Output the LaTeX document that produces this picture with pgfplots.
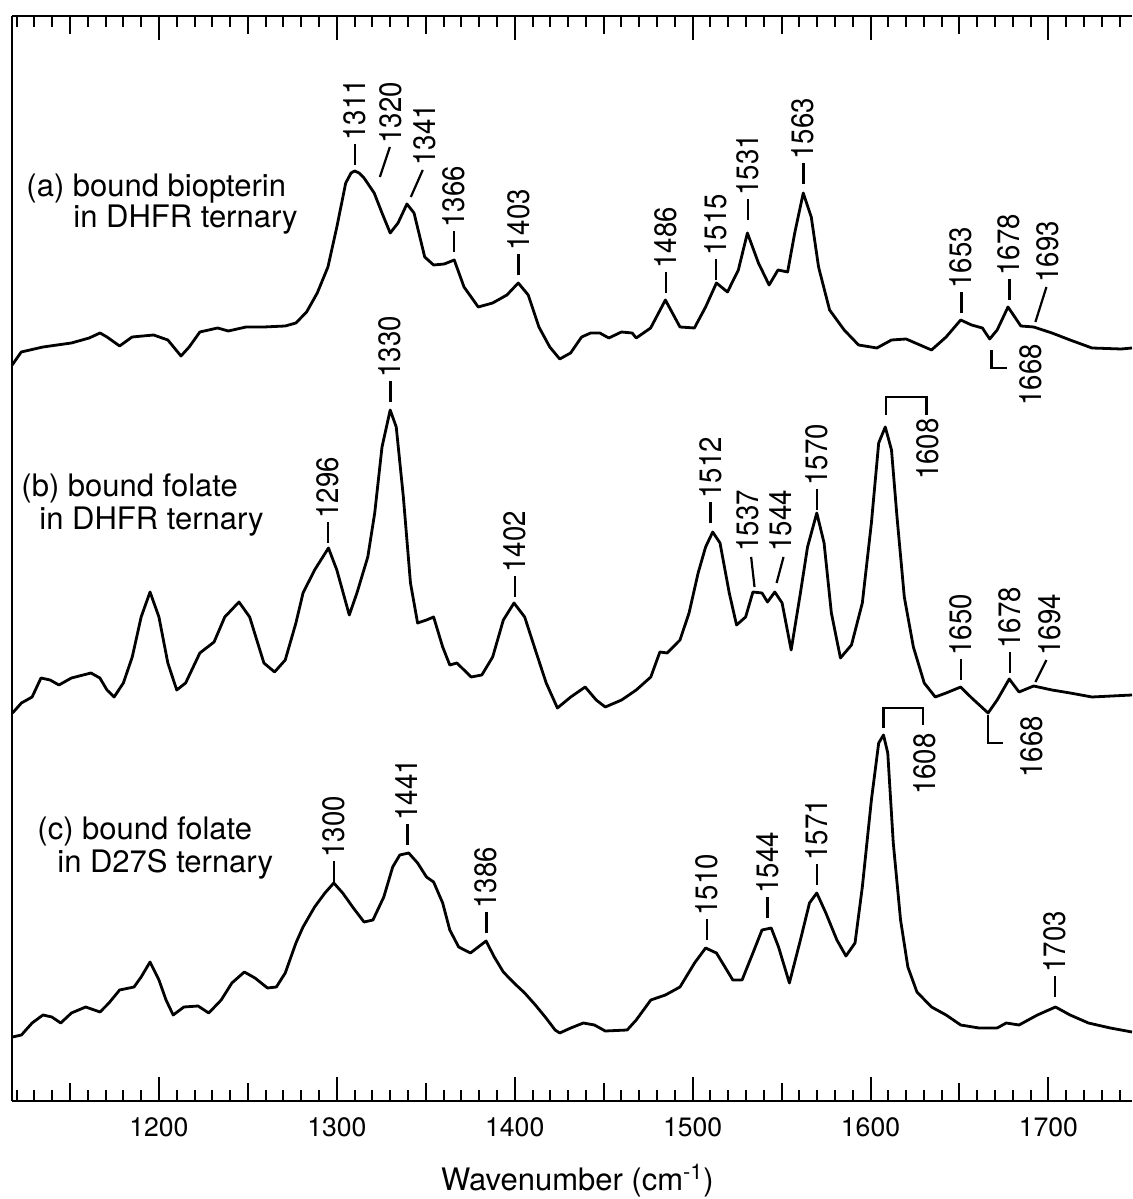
\documentclass[border=0pt]{standalone}
\usepackage{pgfplots}
\usepackage{pgfplotstable}
\usepackage{graphicx}
\usepackage{fontspec}
\setmainfont{TeX Gyre Heros}
\pgfplotsset{compat=1.18}

% Raman difference spectra, heights in plot units (offset traces)
\pgfplotstableread{
w y
1117.5 736
1122.6 749
1134.8 754
1150.8 758
1160.8 763
1166.9 768
1170.8 764
1177.9 755
1184.9 764
1197 766
1205 761
1212.4 745
1217 754
1223 769
1233 773
1239 770
1249 774
1259 774
1271 775
1277 778
1283 789
1289 808
1295 834
1300 874
1305 918
1308 928
1310 930
1312.5 928
1315.3 923
1321 908
1325.4 888
1330 868
1334.4 878
1339.4 897
1343.4 888
1349.4 844
1354.4 836
1360.4 837
1366 841
1371.5 814
1379.5 794
1387.6 798
1395.6 806
1402 818
1407.6 806
1413.6 774
1419.7 754
1425.3 742
1431.4 748
1437.6 764
1442.7 768
1447.8 768
1452.9 763
1460 769
1466 768
1468.3 763
1476.4 773
1484.7 801
1492.9 774
1501 773
1507.3 794
1513.4 818
1519.6 809
1525.7 831
1530.8 868
1537 838
1543 816
1548 831
1553.4 829
1557.4 868
1562.2 908
1566.7 884
1570.8 834
1577 791
1585.2 771
1593.3 756
1603.6 753
1611.8 761
1620 762
1634.3 751
1642.5 764
1650.7 781
1656.8 776
1662.9 773
1667 762
1671.2 771
1677.3 794
1684.5 775
1691.7 774
1702 768
1712.2 761
1724.5 753
1740.9 752
1747 753
}\specA

\pgfplotstableread{
w y
1117.7 388
1122.7 398
1128.7 404
1133.7 423
1138.8 421
1143.8 416
1150.8 423
1161.8 428
1166.8 423
1170.8 411
1174.8 404
1180 418
1185 444
1190 484
1195 509
1200 484
1205 438
1210 411
1215 418
1223 448
1231 459
1237 484
1245 499
1251 484
1259 438
1265 429
1271 441
1277 478
1281 508
1287.5 531
1295.3 553
1300 531
1307 486
1311.3 508
1317.4 544
1321.3 588
1325.4 654
1330 691
1333.4 674
1337.4 604
1341.4 518
1345.4 478
1350.4 481
1354.4 484
1359.5 454
1363.5 436
1367.5 438
1375.5 424
1381.5 426
1387.6 444
1393.6 481
1399.6 498
1405.6 484
1411.6 451
1417.7 418
1424 393
1431.5 404
1439.6 414
1445.8 401
1450.9 394
1460.1 401
1468.3 411
1476.5 424
1481.6 449
1485.7 448
1492.9 461
1498 488
1503.1 528
1507.3 554
1511.3 569
1515.4 558
1520.6 508
1524.7 476
1529.8 484
1533.9 509
1539 508
1542.1 499
1546.2 509
1550.3 498
1555.4 451
1560.6 508
1564.6 554
1569.8 588
1573.9 558
1578 488
1583.1 443
1589.3 456
1595.4 498
1600.5 578
1604.6 658
1608.3 674
1611.8 651
1614.9 584
1619 504
1624.1 454
1630.2 418
1636.4 404
1642.5 408
1650.7 414
1656.9 403
1666.1 388
1671.2 401
1678 422
1683.5 409
1691.7 415
1702 411
1712.2 408
1724.5 404
1747 406
}\specB

\pgfplotstableread{
w y
1117.7 64
1122.7 66
1128.7 78
1134.8 86
1139.8 84
1144.8 78
1150.8 88
1158.8 94
1166.9 89
1171.9 98
1177.9 111
1186 114
1190 124
1195 139
1200 121
1204 101
1208 86
1214 94
1222 95
1228 88
1235 101
1241 118
1248 129
1254 123
1261 113
1266 114
1271 128
1277 158
1281 174
1287.5 194
1293.3 208
1298.3 218
1303.3 208
1309.3 193
1315.3 179
1320.3 181
1326.4 204
1331.4 234
1335.4 246
1340.4 248
1345.4 238
1350.4 224
1354.4 219
1359.5 198
1363.5 171
1368.5 154
1375.1 148
1379.5 154
1383.9 160
1388.5 144
1393.6 129
1399.6 118
1405.6 108
1411.6 96
1417.6 83
1422.7 71
1425.3 68
1431.5 73
1438.6 78
1444.8 76
1450.9 70
1463.2 71
1468.3 81
1476.5 101
1484.7 106
1492.9 114
1501.1 138
1507.3 153
1513.4 148
1522.6 121
1527.8 121
1533.9 148
1539 171
1544.2 173
1548.3 154
1554.4 118
1560.6 161
1565.7 198
1569.8 208
1574.9 188
1581.1 161
1586.2 145
1591.3 158
1595.4 214
1600.5 301
1604.6 358
1607.3 366
1609.7 348
1612.8 258
1616.9 181
1621 134
1626.1 109
1634.3 94
1642.5 86
1650.7 76
1661 73
1671.2 73
1676.3 78
1683.5 76
1693.8 86
1704 94
1712.2 86
1722.5 78
1734.8 73
1747 69
}\specC

% peak labels: rotated wavenumbers, with or without a short lead dash
\newcommand{\pk}[1]{\rotatebox{90}{\scalebox{1}[1.12]{\rule[0.3em]{0.75em}{1.1pt}\hspace{0.12em}#1}}}
\newcommand{\pn}[1]{\rotatebox{90}{\scalebox{1}[1.12]{#1}}}

\begin{document}
\begin{tikzpicture}[
  lab/.style={inner sep=0pt, font=\fontsize{13.8}{15}\selectfont},
  smp/.style={inner sep=0pt, anchor=base west, font=\fontsize{15.5}{18}\selectfont},
  lead/.style={line width=1.1pt, black}]
\useasboundingbox (0,0) rectangle (566pt,599.5pt);
\begin{axis}[
  at={(6pt,49pt)}, anchor=south west,
  scale only axis, width=560pt, height=542.5pt,
  xmin=1117.4, xmax=1747, ymin=0, ymax=1085,
  axis x line*=box, axis y line*=left,
  y axis line style={-},
  axis line style={line width=1.2pt},
  ytick=\empty,
  xtick={1200,1300,1400,1500,1600,1700},
  xticklabels={1200,1300,1400,1500,1600,1700},
  minor xtick={1120,1130,...,1740},
  extra x ticks={1150,1250,1350,1450,1550,1650},
  extra x tick labels={},
  extra x tick style={major tick length=9pt},
  major tick length=12pt, minor tick length=5.5pt,
  tick align=inside,
  every tick/.style={black, line width=1pt},
  xticklabel style={font=\fontsize{13.3}{15}\selectfont, yshift=-5pt},
  xlabel={Wavenumber (cm\textsuperscript{-1})},
  xlabel style={at={(axis description cs:0.5,0)}, anchor=base, yshift=-44.5pt, xshift=2.7pt,
    font=\fontsize{15.5}{18}\selectfont},
  clip=false,
]
\addplot[black, line width=1.4pt, line join=round] table[x=w, y=y] {\specA};
\addplot[black, line width=1.4pt, line join=round] table[x=w, y=y] {\specB};
\addplot[black, line width=1.4pt, line join=round] table[x=w, y=y] {\specC};

% sample captions
\node[smp] at (axis cs:1125.3,904) {(a) bound biopterin};
\node[smp] at (axis cs:1151.7,873) {in DHFR ternary};
\node[smp] at (axis cs:1122.5,604) {(b) bound folate};
\node[smp] at (axis cs:1132.6,571) {in DHFR ternary};
\node[smp] at (axis cs:1131.5,261) {(c) bound folate};
\node[smp] at (axis cs:1142.7,228) {in D27S ternary};

% (a) bound biopterin
\node[lab, anchor=south] at (axis cs:1310,936) {\pk{1311}};
\draw[lead] (axis cs:1324.2,924) -- (axis cs:1329.8,954);
\node[lab, anchor=south] at (axis cs:1330.5,957) {\pn{1320}};
\draw[lead] (axis cs:1341.6,904) -- (axis cs:1348.3,931);
\node[lab, anchor=south] at (axis cs:1349.4,935) {\pn{1341}};
\node[lab, anchor=south] at (axis cs:1365.7,849) {\pk{1366}};
\node[lab, anchor=south] at (axis cs:1402,826) {\pk{1403}};
\node[lab, anchor=south] at (axis cs:1485,808) {\pk{1486}};
\node[lab, anchor=south] at (axis cs:1513,821) {\pk{1515}};
\node[lab, anchor=south] at (axis cs:1531,881) {\pk{1531}};
\node[lab, anchor=south] at (axis cs:1562.2,917) {\pk{1563}};
\node[lab, anchor=south] at (axis cs:1651,788) {\pk{1653}};
\node[lab, anchor=south] at (axis cs:1678,801) {\pk{1678}};
\draw[lead] (axis cs:1692.7,779) -- (axis cs:1698.9,814);
\node[lab, anchor=south] at (axis cs:1699.5,818) {\pn{1693}};
\draw[lead] (axis cs:1668,751) -- (axis cs:1668,733) -- (axis cs:1677,733);
\node[lab, anchor=center] at (axis cs:1689.9,726) {\pn{1668}};

% (b) bound folate, DHFR
\node[lab, anchor=south] at (axis cs:1295,558) {\pk{1296}};
\node[lab, anchor=south] at (axis cs:1330,699) {\pk{1330}};
\node[lab, anchor=south] at (axis cs:1400,504) {\pk{1402}};
\node[lab, anchor=south] at (axis cs:1510,578) {\pk{1512}};
\draw[lead] (axis cs:1534.8,514) -- (axis cs:1532.9,544);
\node[lab, anchor=south] at (axis cs:1531.2,549) {\pn{1537}};
\draw[lead] (axis cs:1547.2,518) -- (axis cs:1551.1,544);
\node[lab, anchor=south] at (axis cs:1549.6,549) {\pn{1544}};
\node[lab, anchor=south] at (axis cs:1569.7,591) {\pk{1570}};
\draw[lead] (axis cs:1608.7,686) -- (axis cs:1608.7,704) -- (axis cs:1631.5,704) -- (axis cs:1631.5,686);
\node[lab, anchor=north] at (axis cs:1632.3,683) {\pn{1608}};
\node[lab, anchor=south] at (axis cs:1650.6,421) {\pk{1650}};
\node[lab, anchor=south] at (axis cs:1678.4,428) {\pk{1678}};
\draw[lead] (axis cs:1692.7,419) -- (axis cs:1698.9,441);
\node[lab, anchor=south] at (axis cs:1701,445) {\pn{1694}};
\draw[lead] (axis cs:1666,386) -- (axis cs:1666,358) -- (axis cs:1674.2,358);
\node[lab, anchor=center] at (axis cs:1690.4,354) {\pn{1668}};

% (c) bound folate, D27S
\node[lab, anchor=south] at (axis cs:1298.3,219) {\pk{1300}};
\node[lab, anchor=south] at (axis cs:1339.4,256) {\pk{1441}};
\node[lab, anchor=south] at (axis cs:1383.9,168) {\pk{1386}};
\node[lab, anchor=south] at (axis cs:1507.9,161) {\pk{1510}};
\node[lab, anchor=south] at (axis cs:1542,183) {\pk{1544}};
\node[lab, anchor=south] at (axis cs:1569.7,216) {\pk{1571}};
\draw[lead] (axis cs:1607.3,373) -- (axis cs:1607.3,393) -- (axis cs:1629.6,393) -- (axis cs:1629.6,376);
\node[lab, anchor=north] at (axis cs:1630.3,368) {\pn{1608}};
\node[lab, anchor=south] at (axis cs:1703.6,104) {\pk{1703}};
\end{axis}
\end{tikzpicture}
\end{document}
